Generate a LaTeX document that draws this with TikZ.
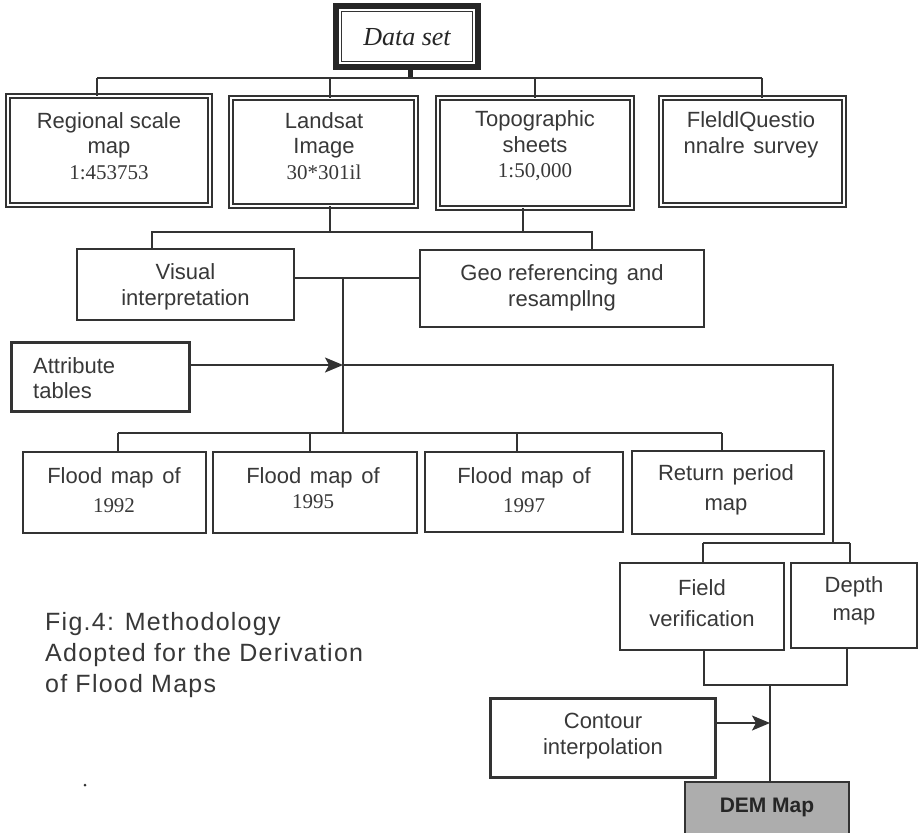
\documentclass[tikz,border=0pt]{standalone}
\usepackage{fontspec}
\setmainfont{Liberation Serif}
\setsansfont{Liberation Sans}
\newfontfamily\capfont[LetterSpace=5]{Liberation Sans}
\usetikzlibrary{arrows.meta,fit}
\definecolor{ink}{HTML}{333333}
\definecolor{txt}{HTML}{383838}
\definecolor{demfill}{HTML}{ADADAD}
\newcommand{\nsz}{\fontsize{21}{26}\selectfont\rmfamily}
\newcommand{\wsp}{\hspace{2.5pt}\ }
\tikzset{
  x=1pt, y=1pt,
  frame/.style={inner sep=0pt, outer sep=0pt, draw=ink, fill=white},
  dbl/.style={frame, line width=1.5pt, double=white, double distance=2.8pt},
  plain/.style={frame, line width=1.8pt},
  heavy/.style={frame, line width=3pt},
  lbl/.style={text=txt, align=center, inner sep=0pt, font=\sffamily\fontsize{22}{25.5}\selectfont},
  conn/.style={draw=ink, line width=1.7pt},
  arr/.style={conn, -{Stealth[length=18pt,width=15pt,inset=4pt]}},
  captext/.style={text=txt, anchor=base west, inner sep=0pt, font=\capfont\fontsize{25}{30}\selectfont},
}
\begin{document}
\begin{tikzpicture}
\path[use as bounding box, fill=white] (0,0) rectangle (919,-833);

% Data set
\node[fit={(336,-6) (478,-67)}, frame, line width=6pt, draw=black!85] (data) {};
\draw[ink, line width=0.9pt] ([shift={(5.5,-5.5)}]data.north west) rectangle ([shift={(-5.5,5.5)}]data.south east);
\node[text=black!85, inner sep=0pt, font=\rmfamily\itshape\fontsize{26}{30}\selectfont] (data-t) at (407,-37) {Data set};

% bus
\coordinate (b0) at (410,-78);
\coordinate (b1) at (97,-78);
\coordinate (b2) at (330,-78);
\coordinate (b3) at (535,-78);
\coordinate (b4) at (762,-78);
\draw[draw=black!85, line width=5pt] (data.south -| b0) -- (b0);
\draw[conn, line width=2.4pt] (b1) -- (b4);

% row 1
\node[dbl, fit={(8,-96) (210,-205)}] (reg) {};
\node[dbl, fit={(231,-98) (416,-206)}] (land) {};
\node[dbl, fit={(438,-98) (632,-208)}] (topo) {};
\node[dbl, fit={(661,-98) (844,-205)}] (fq) {};
\foreach \b/\n in {b1/reg,b2/land,b3/topo,b4/fq} \draw[conn] (\b) -- (\b |- \n.north);

\node[lbl] (reg-t) at (109,-146) {Regional scale\\map\\{\nsz 1:453753}};
\node[lbl] (land-t) at (324,-146) {Landsat\\Image\\{\nsz 30*301il}};
\node[lbl] (topo-t) at (535,-146) {Topographic\\sheets\\{\nsz 1:50,000}};
\node[lbl] (fq-t) at (751,-135) {FleldlQuestio\\nnalre\wsp survey};

% second level
\node[plain, fit={(77,-249) (294,-320)}] (vis) {};
\node[plain, fit={(420,-250) (704,-327)}] (geo) {};
\node[lbl] (vis-t) at (185.5,-287) {Visual\\interpretation};
\node[lbl] (geo-t) at (562,-288) {Geo referencing\wsp and\\resampllng};

\coordinate (j1) at (330,-232);
\coordinate (j2) at (523,-232);
\coordinate (h1) at (152,-232);
\coordinate (h2) at (592,-232);
\draw[conn] (j1 |- land.south) -- (j1);
\draw[conn] (j2 |- topo.south) -- (j2);
\draw[conn] (h1 |- vis.north) -- (h1) -- (h2) -- (h2 |- geo.north);

\coordinate (m1) at (343,-278);
\coordinate (m3) at (343,-365);
\coordinate (m2) at (343,-433);
\draw[conn] (vis.east |- m1) -- (geo.west |- m1);
\draw[conn] (m1) -- (m2);

% attribute tables
\node[heavy, fit={(11.5,-342.5) (189.5,-411.5)}] (attr) {};
\node[lbl, align=left, anchor=west] (attr-t) at (33,-378) {Attribute\\tables};
\draw[arr] (attr.east |- m3) -- (m3);

\coordinate (r1) at (833,-365);
\coordinate (r2) at (833,-543);
\draw[conn] (m3) -- (r1) -- (r2);

% flood maps
\coordinate (c1) at (118,-433);
\coordinate (c2) at (310,-433);
\coordinate (c3) at (517,-433);
\coordinate (c4) at (722,-433);
\draw[conn] (c1) -- (c4);
\node[plain, fit={(23,-452) (206,-533)}] (f92) {};
\node[plain, fit={(213,-452) (417,-533)}] (f95) {};
\node[plain, fit={(425,-452) (623,-532)}] (f97) {};
\node[plain, fit={(632,-451) (824,-534)}] (ret) {};
\foreach \c/\n in {c1/f92,c2/f95,c3/f97,c4/ret} \draw[conn] (\c) -- (\c |- \n.north);

\node[lbl] (f92-t) at (114,-490) {Flood\wsp map\wsp of\\[3pt]{\nsz 1992}};
\node[lbl] (f95-t) at (313,-488) {Flood\wsp map\wsp of\\{\nsz 1995}};
\node[lbl] (f97-t) at (524,-490) {Flood\wsp map\wsp of\\[3pt]{\nsz 1997}};
\node[lbl] (ret-t) at (726,-490) {Return\wsp period\\[4pt]map};

% field / depth
\coordinate (k1) at (703,-543);
\coordinate (k2) at (850,-543);
\draw[conn] (k1) -- (k2);
\node[plain, fit={(620,-563) (784,-650)}] (fv) {};
\node[plain, fit={(791,-563) (917,-648)}] (dm) {};
\draw[conn] (k1) -- (k1 |- fv.north);
\draw[conn] (k2) -- (k2 |- dm.north);
\node[lbl] (fv-t) at (702,-603) {Field\\[5pt]verification};
\node[lbl] (dm-t) at (854,-601) {Depth\\[3pt]map};

\coordinate (p1) at (704,-685);
\coordinate (p2) at (847,-685);
\coordinate (p0) at (770,-685);
\draw[conn] (p1 |- fv.south) -- (p1) -- (p2) -- (p2 |- dm.south);

% DEM
\node[frame, fill=demfill, line width=1.8pt, fit={(685,-782) (849,-838)}] (dem) {};
\node[text=black!85, inner sep=0pt, font=\sffamily\bfseries\fontsize{21}{25}\selectfont] (dem-t) at (767,-807) {DEM Map};
\draw[conn] (p0) -- (p0 |- dem.north);

% contour
\node[heavy, fit={(490.5,-698.5) (715.5,-777.5)}] (cont) {};
\node[lbl] (cont-t) at (603,-736) {Contour\\interpolation};
\coordinate (q1) at (770,-723);
\draw[arr] (cont.east |- q1) -- (q1);

% caption
\node[captext] (cap1) at (45,-630) {Fig.4: Methodology};
\node[captext] (cap2) at (45,-661) {Adopted for the Derivation};
\node[captext] (cap3) at (45,-692) {of Flood Maps};
\fill[ink] (85,-785) circle (1.5);
\end{tikzpicture}
\end{document}
